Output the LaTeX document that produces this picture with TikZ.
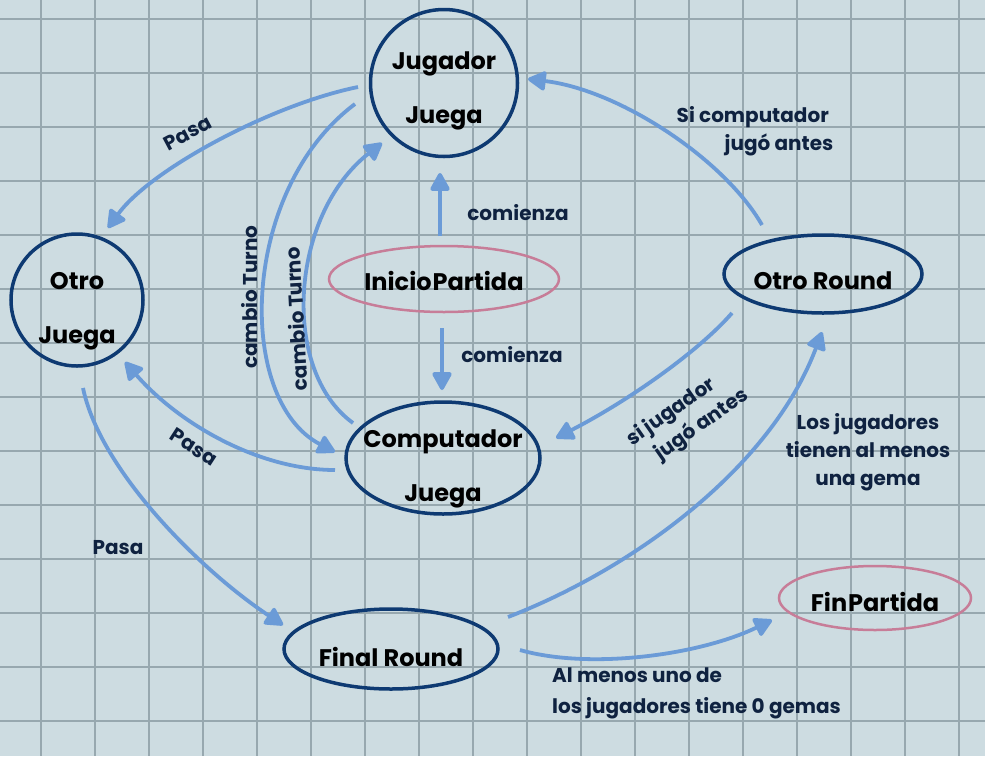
\documentclass[tikz,border=0pt]{standalone}
\usepackage{fontspec}
\setmainfont{Poppins}
\usetikzlibrary{shapes.geometric,arrows.meta}
\definecolor{bg}{HTML}{CDDCE1}
\definecolor{gridc}{HTML}{97A8AF}
\definecolor{navy}{HTML}{0E3A72}
\definecolor{edgeb}{HTML}{6B9BD7}
\definecolor{pinkc}{HTML}{C77D98}
\definecolor{labc}{HTML}{0F2240}
\newcommand{\zt}[2][0pt]{\makebox[0pt]{\smash{\raisebox{\dimexpr-.25em-#1\relax}{\begin{tabular}[c]{@{}c@{}}#2\end{tabular}}}}}
\begin{document}
\begin{tikzpicture}[x=1pt,y=-1pt,
  state/.style={draw=navy,line width=3.5pt,ellipse,inner sep=0pt,outer sep=0pt,
    font=\fontsize{24}{54}\selectfont\bfseries,text=black},
  startend/.style={state,draw=pinkc,line width=2.5pt},
  edge/.style={draw=edgeb,line width=3.8pt,-{Triangle[length=20pt,width=21pt,round]}},
  lab/.style={text=labc,font=\fontsize{20}{28}\selectfont\bfseries,inner sep=0pt,align=center}]
\fill[bg] (0,0) rectangle (985,756);
\useasboundingbox (0,0) rectangle (985,756);
\foreach \i in {0,...,17} \draw[gridc,line width=2pt] ({40.7+54*\i},0) -- ({40.7+54*\i},756);
\foreach \j in {0,...,13} \draw[gridc,line width=2pt] (0,{19.3+54*\j}) -- (985,{19.3+54*\j});

\node[state,minimum width=147pt,minimum height=147pt] (jug) at (444,83) {\zt[3pt]{Jugador\\Juega}};
\node[state,minimum width=132pt,minimum height=132pt] (otro) at (77,300) {\zt[6pt]{Otro\\Juega}};
\node[startend,minimum width=230pt,minimum height=66pt] (ini) at (444,279) {\zt[1pt]{Inicio\hspace{1pt}Partida}};
\node[state,minimum width=194pt,minimum height=112pt] (comp) at (443,458) {\zt[6pt]{Computador\\Juega}};
\node[state,minimum width=198pt,minimum height=78pt] (ore) at (823,274) {\zt[5pt]{Otro Round}};
\node[state,minimum width=214pt,minimum height=80pt] (fr) at (391,649) {\zt[7pt]{Final Round}};
\node[startend,minimum width=192pt,minimum height=64pt] (fp) at (875,598) {\zt[3pt]{Fin\hspace{1pt}Partida}};

\draw[edge] ([shift={(-86,4)}]jug.center) .. controls (270,105) and (150,170) .. ([shift={(31,-72)}]otro.center);
\node[lab,rotate=28] (l1) at (188,133) {Pasa};

\draw[edge] ([shift={(-89,21)}]jug.center) .. controls (240,190) and (235,400) .. ([shift={(-108,-6)}]comp.center);
\node[lab,rotate=90] (l2) at (250,297) {cambio Turno};

\draw[edge] ([shift={(-90,-35)}]comp.center) .. controls (280,370) and (290,215) .. ([shift={(-62,60)}]jug.center);
\node[lab,rotate=93] (l3) at (296,319) {cambio Turno};

\draw[edge] ([shift={(-4,-43)}]ini.center) -- ([shift={(-4,90)}]jug.center);
\node[lab] (l4) at (518,213) {comienza};

\draw[edge] ([shift={(-2,49)}]ini.center) -- ([shift={(-1,-68)}]comp.center);
\node[lab] (l5) at (512,355) {comienza};

\draw[edge] ([shift={(-108,12)}]comp.center) .. controls (260,470) and (180,425) .. ([shift={(48,62)}]otro.center);
\node[lab,rotate=-33] (l6) at (194,447) {Pasa};

\draw[edge] ([shift={(6,88)}]otro.center) .. controls (100,470) and (200,570) .. ([shift={(-108,-24)}]fr.center);
\node[lab] (l7) at (118,548) {Pasa};

\draw[edge] ([shift={(-61,-49)}]ore.center) .. controls (725,160) and (620,90) .. ([shift={(84,-4)}]jug.center);
\node[lab,align=left] (l8) at (755,131) {Si computador\\\hspace{48pt}jugó antes};

\draw[edge] ([shift={(-91,39)}]ore.center) .. controls (700,350) and (630,400) .. ([shift={(113,-20)}]comp.center);
\node[lab,align=left,rotate=35] (l9) at (688,418) {si jugador\\\hspace{15pt}jugó antes};

\draw[edge] ([shift={(117,-32)}]fr.center) .. controls (630,570) and (770,470) .. ([shift={(-1,58)}]ore.center);
\node[lab] (l10) at (868,452) {Los jugadores\\tienen al menos\\una gema};

\draw[edge] ([shift={(129,1)}]fr.center) .. controls (590,670) and (700,655) .. ([shift={(-103,22)}]fp.center);
\node[lab,align=left,anchor=north west,font=\fontsize{20}{31}\selectfont\bfseries] (l11) at (552,667) {Al menos uno de\\los jugadores tiene 0 gemas};
\end{tikzpicture}
\end{document}
